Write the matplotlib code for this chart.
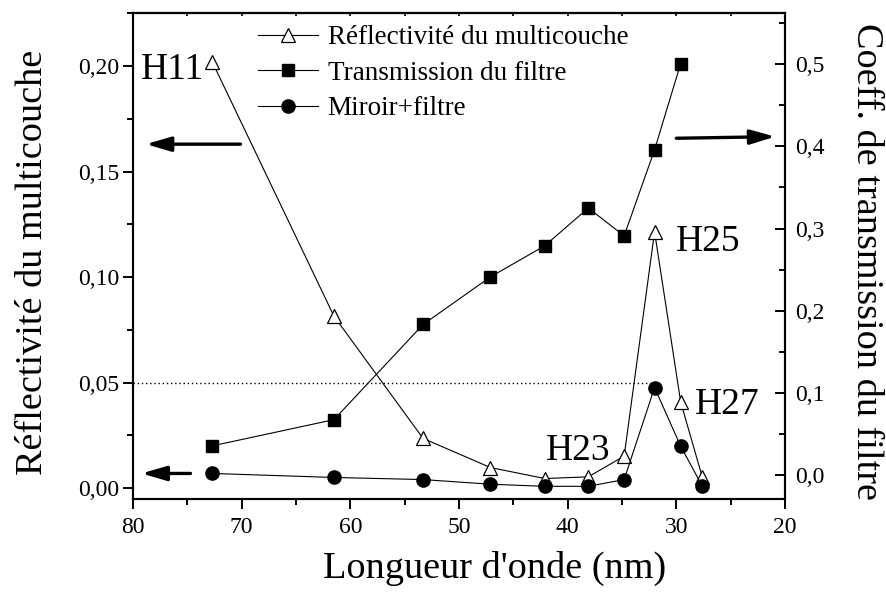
import numpy as np
import matplotlib.pyplot as plt
from matplotlib.ticker import MultipleLocator, FixedLocator

plt.rcParams['font.family'] = 'Liberation Serif'

# harmoniques H11 ... H29, longueur d'onde en nm
wavelength = [72.7, 61.5, 53.3, 47.1, 42.1, 38.1, 34.8, 32.0, 29.6, 27.6]
reflectivite = [0.202, 0.0815, 0.0236, 0.0098, 0.0046, 0.0054, 0.0152, 0.1215, 0.0409, 0.0051]
miroir_filtre = [0.0070, 0.0051, 0.0041, 0.0019, 0.0009, 0.0009, 0.0041, 0.0477, 0.0199, 0.0009]

wavelength_filtre = [72.7, 61.5, 53.3, 47.1, 42.1, 38.1, 34.8, 32.0, 29.6]
transmission = [0.035, 0.067, 0.183, 0.241, 0.279, 0.325, 0.291, 0.396, 0.501]

seuil = 0.05

x_ticks = [80, 70, 60, 50, 40, 30, 20]
x_labels = ['80', '70', '60', '50', '40', '30', '20']
left_ticks = [0.00, 0.05, 0.10, 0.15, 0.20]
left_labels = ['0,00', '0,05', '0,10', '0,15', '0,20']
right_ticks = [0.0, 0.1, 0.2, 0.3, 0.4, 0.5]
right_labels = ['0,0', '0,1', '0,2', '0,3', '0,4', '0,5']

fig = plt.figure(figsize=(8.86, 5.95), dpi=100)
ax = fig.add_axes([0.150, 0.161, 0.736, 0.817])
ax2 = ax.twinx()

l1, = ax.plot(wavelength, reflectivite, '-', color='k', lw=0.8, marker='^', ms=10,
              mfc='white', mec='k', mew=0.9, label='Réflectivité du multicouche', zorder=3)
l3, = ax.plot(wavelength, miroir_filtre, '-', color='k', lw=0.8, marker='o', ms=9.5,
              mfc='k', mec='k', label='Miroir+filtre', zorder=4)
l2, = ax2.plot(wavelength_filtre, transmission, '-', color='k', lw=0.8, marker='s', ms=8,
               mfc='k', mec='k', label='Transmission du filtre')

# niveau de 5 %
ax.hlines(seuil, 80, 31.9, colors='k', linestyles=(0, (1, 2)), lw=1)

ax.set_xlim(80, 20)
ax.set_ylim(-0.0052, 0.2251)
ax2.set_ylim(-0.030, 0.5626)

ax.xaxis.set_major_locator(FixedLocator(x_ticks))
ax.set_xticklabels(x_labels)
ax.xaxis.set_minor_locator(MultipleLocator(5))
ax.yaxis.set_major_locator(FixedLocator(left_ticks))
ax.set_yticklabels(left_labels)
ax.yaxis.set_minor_locator(MultipleLocator(0.025))
ax2.yaxis.set_major_locator(FixedLocator(right_ticks))
ax2.set_yticklabels(right_labels)
ax2.yaxis.set_minor_locator(MultipleLocator(0.05))

ax.tick_params(axis='both', which='major', direction='out', length=7, width=1.4, labelsize=17)
ax.tick_params(axis='both', which='minor', direction='out', length=4.5, width=1.4)
ax.tick_params(axis='x', pad=6)
ax.tick_params(axis='y', pad=3)
ax2.tick_params(axis='y', which='major', direction='in', length=7, width=1.4, labelsize=17, pad=7)
ax2.tick_params(axis='y', which='minor', direction='in', length=4.5, width=1.4)

top = ax.secondary_xaxis('top')
top.xaxis.set_major_locator(MultipleLocator(5))
top.tick_params(direction='in', length=2, width=1.2, labeltop=False)
top.spines['top'].set_linewidth(1.5)

for a in (ax, ax2):
    for s in a.spines.values():
        s.set_linewidth(1.5)

ax.set_xlabel("Longueur d'onde (nm)", fontsize=27.5)
ax.xaxis.set_label_coords(0.554, -0.107)
ax.set_ylabel('Réflectivité du multicouche', fontsize=27.5)
ax.yaxis.set_label_coords(-0.127, 0.488)
ax2.set_ylabel('Coeff. de transmission du filtre', fontsize=27.5, rotation=-90, va='bottom')
ax2.yaxis.set_label_coords(1.098, 0.49)

# noms des harmoniques
ax.text(79.3, 0.1938, 'H11', fontsize=27, ha='left', va='baseline')
ax.text(41.96, 0.0136, 'H23', fontsize=27, ha='left', va='baseline')
ax.text(30.0, 0.1125, 'H25', fontsize=27, ha='left', va='baseline')
ax.text(28.3, 0.0354, 'H27', fontsize=27, ha='left', va='baseline')

# flèches vers les axes
arrow = dict(arrowstyle='-|>,head_length=0.75,head_width=0.22', color='k', lw=2.4,
             mutation_scale=20, shrinkA=0, shrinkB=0)
ax.annotate('', xy=(78.8, 0.163), xytext=(70.1, 0.163), arrowprops=arrow)
ax.annotate('', xy=(79.2, 0.007), xytext=(74.7, 0.007), arrowprops=arrow)
ax2.annotate('', xy=(20.9, 0.412), xytext=(30.0, 0.410), arrowprops=arrow)

ax2.legend(handles=[l1, l2, l3], loc='upper left', bbox_to_anchor=(0.192, 0.975),
           frameon=False, fontsize=19.5, handlelength=2.2, handletextpad=0.37,
           labelspacing=0.39, borderpad=0, borderaxespad=0, numpoints=1)

fig.savefig('out.png', dpi=100)
